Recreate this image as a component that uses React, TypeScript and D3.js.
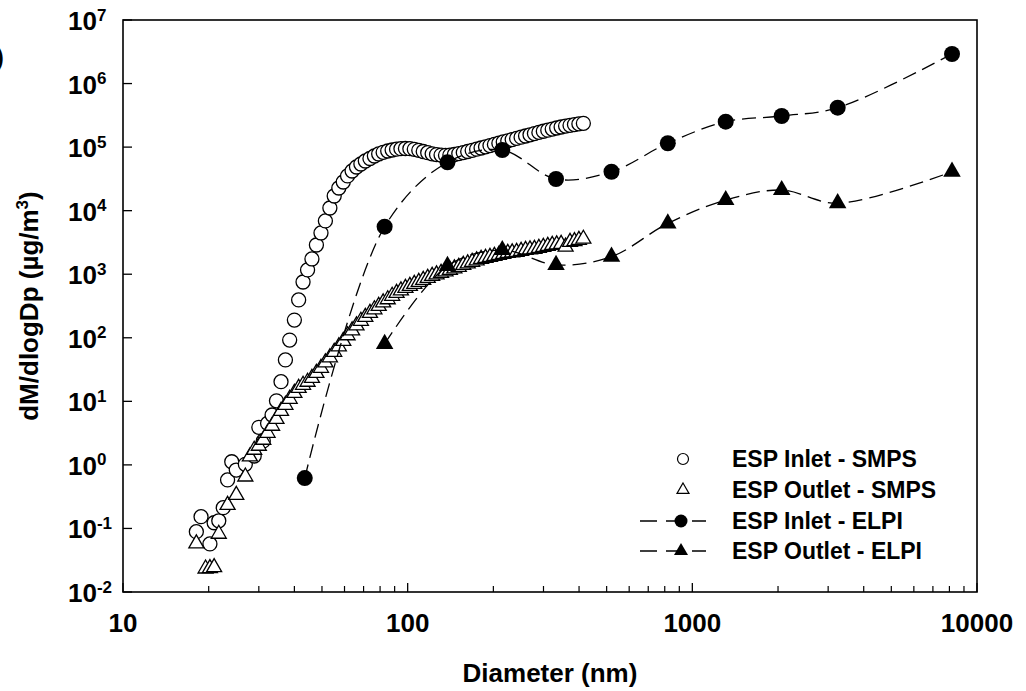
import React from 'react';
import * as d3 from 'd3';

const W = 1026;
const H = 691;
const PLOT = { left: 123, top: 20, right: 977, bottom: 592 };

const xTickValues = [10, 100, 1000, 10000];
const yTickExponents = [-2, -1, 0, 1, 2, 3, 4, 5, 6, 7];

const inletSmpsD = [18.1, 18.8, 20.2, 20.9, 21.7, 22.5, 23.3, 24.1, 25.0, 26.9, 28.9,
  30.0, 31.1, 32.2, 33.4, 34.6, 35.9, 37.2, 38.5, 40.0, 41.4, 42.9, 44.5, 46.1, 47.8, 49.6,
  51.4, 53.3, 55.2, 57.3, 59.4, 61.5, 63.8, 66.1, 68.5, 71.0, 73.7, 76.4, 79.1, 82.0, 85.1,
  88.2, 91.4, 94.7, 98.2, 101.8, 105.5, 109.4, 113.4, 117.6, 121.9, 126.3, 131.0, 135.8, 140.7,
  145.9, 151.2, 156.8, 162.5, 168.5, 174.7, 181.1, 187.7, 194.6, 201.7, 209.1, 216.7, 224.7,
  232.9, 241.4, 250.3, 259.5, 269.0, 278.8, 289.0, 299.6, 310.6, 322.0, 333.8, 346.0, 358.7,
  371.8, 385.4, 399.5, 414.2];
const inletSmpsV = [0.089, 0.153, 0.057, 0.123, 0.132, 0.212, 0.58, 1.12, 0.83, 1.02, 1.38,
  3.9, 2.38, 4.5, 6.1, 10.2, 20.4,
  44.8, 92, 190, 394, 755, 1167, 1738, 2884, 4457, 6887,
  11020, 17020, 22750, 28250, 35160, 42100, 48650, 54200, 60500, 66200,
  72500, 78000, 82900, 86900, 90100, 92800, 94400, 95100, 94400, 92400,
  89100, 85300, 81700, 78500, 76300, 74900, 74300, 74900, 76500, 79100,
  82000, 85300, 89100, 92800, 96900, 101000, 105700, 110400, 115300, 120500,
  125700, 131300, 137200, 143300, 149600, 156300, 163300, 170500, 177500, 184600,
  192100, 200000, 207300, 214000, 220000, 226000, 232000, 237000];

const outletSmpsD = [18.1, 19.5, 20.2, 20.9, 21.7, 23.3, 25.0, 26.9, 27.9, 28.9,
  30.0, 31.1, 32.2, 33.4, 34.6, 35.9, 37.2, 38.5, 40.0, 41.4, 42.9, 44.5, 46.1, 47.8, 49.6,
  51.4, 53.3, 55.2, 57.3, 59.4, 61.5, 63.8, 66.1, 68.5, 71.0, 73.7, 76.4, 79.1, 82.0, 85.1,
  88.2, 91.4, 94.7, 98.2, 101.8, 105.5, 109.4, 113.4, 117.6, 121.9, 126.3, 131.0, 135.8, 140.7,
  145.9, 151.2, 156.8, 162.5, 168.5, 174.7, 181.1, 187.7, 194.6, 201.7, 209.1, 216.7, 224.7,
  232.9, 241.4, 250.3, 259.5, 269.0, 278.8, 289.0, 299.6, 310.6, 322.0, 333.8, 346.0, 358.7,
  371.8, 385.4, 399.5, 414.2];
const outletSmpsV = [0.058, 0.0233, 0.0236, 0.0245, 0.082, 0.234, 0.336, 0.653, 1.35, 1.72,
  1.99, 2.47, 3.18, 4.1, 5.27, 7.05,
  8.77, 10.9, 13.5, 16.2, 18.1, 20.2, 23.3, 27.9, 33.5, 40.8,
  49, 59.8, 73, 89, 109, 130, 156, 184, 212, 245,
  279, 316, 359, 401, 455, 507, 555, 607, 653, 702,
  755, 811, 873, 938, 991, 1045, 1104, 1166, 1231, 1300,
  1397, 1476, 1559, 1645, 1738, 1800, 1866, 1936, 2009, 2080,
  2158, 2198, 2239, 2322, 2404, 2450, 2495, 2588, 2685, 2782,
  2884, 2937, 2992, 2700, 3213, 3300, 3459, 3600];

const inletElpiD = [43.5, 83, 138, 215, 332, 520, 820, 1310, 2060, 3240, 8170];
const inletElpiV = [0.62, 5600, 57700, 90000, 31500, 41000, 115000, 251000, 309000, 417000, 2920000];
const outletElpiD = [83, 138, 215, 332, 520, 820, 1310, 2060, 3240, 8170];
const outletElpiV = [80, 1350, 2400, 1400, 1890, 6300, 14700, 21100, 13100, 41000];

const legendLabels = ['ESP Inlet - SMPS', 'ESP Outlet - SMPS', 'ESP Inlet - ELPI', 'ESP Outlet - ELPI'];

const FONT = "'Liberation Sans', Arial, Helvetica, sans-serif";

const zip = (ds: number[], vs: number[]) =>
  ds.map((d, i) => [d, vs[i]] as [number, number]).filter((p) => p[1] !== undefined && p[1] > 0);

const triPath = (s: number) => {
  const h = s * 0.866;
  return `M0,${(-2 * h) / 3}L${s / 2},${h / 3}L${-s / 2},${h / 3}Z`;
};

export default function App() {
  const x = d3.scaleLog().domain([10, 10000]).range([PLOT.left, PLOT.right]);
  const y = d3.scaleLog().domain([0.01, 1e7]).range([PLOT.bottom, PLOT.top]);

  const inletSmps = zip(inletSmpsD, inletSmpsV);
  const outletSmps = zip(outletSmpsD, outletSmpsV);
  const inletElpi = zip(inletElpiD, inletElpiV);
  const outletElpi = zip(outletElpiD, outletElpiV);

  const line = d3
    .line<[number, number]>()
    .x((d) => x(d[0]))
    .y((d) => y(d[1]))
    .curve(d3.curveCatmullRom.alpha(0.5));

  const minorX: number[] = [];
  [10, 100, 1000].forEach((b) => {
    for (let k = 2; k <= 9; k++) minorX.push(b * k);
  });

  const dash = '14,7';

  const legendY = [459, 490, 521, 551];
  const legMarkerX = 681;
  const legTextX = 732;

  return (
    <svg
      width={W}
      height={H}
      style={{ position: 'absolute', left: 0, top: 0, background: '#fff' }}
      fontFamily={FONT}
      fontWeight="bold"
    >
      <rect x={0} y={0} width={W} height={H} fill="#fff" />
      {/* partial panel label, cropped at the left edge as in the source */}
      <text x={4} y={66} fontSize={26} textAnchor="end">(a)</text>

      {/* frame */}
      <rect
        x={PLOT.left}
        y={PLOT.top}
        width={PLOT.right - PLOT.left}
        height={PLOT.bottom - PLOT.top}
        fill="none"
        stroke="#000"
        strokeWidth={1.6}
      />

      {/* x ticks */}
      {xTickValues.map((v) => (
        <line key={'xt' + v} x1={x(v)} x2={x(v)} y1={PLOT.bottom} y2={PLOT.bottom - 9} stroke="#000" strokeWidth={1.3} />
      ))}
      {minorX.map((v) => (
        <line key={'xm' + v} x1={x(v)} x2={x(v)} y1={PLOT.bottom} y2={PLOT.bottom - 6} stroke="#000" strokeWidth={1.2} />
      ))}
      {xTickValues.map((v) => (
        <text key={'xl' + v} x={x(v)} y={632} fontSize={26} textAnchor="middle">
          {String(v)}
        </text>
      ))}

      {/* y ticks */}
      {yTickExponents.map((e) => (
        <line key={'yt' + e} x1={PLOT.left} x2={PLOT.left + 9} y1={y(Math.pow(10, e))} y2={y(Math.pow(10, e))} stroke="#000" strokeWidth={1.3} />
      ))}
      {yTickExponents.map((e) => {
        const yy = y(Math.pow(10, e));
        return (
          <text key={'yl' + e} x={68} y={yy + 10} fontSize={26}>
            10
            <tspan fontSize={17} dy={-9.5}>{String(e)}</tspan>
          </text>
        );
      })}

      {/* axis titles */}
      <text x={(PLOT.left + PLOT.right) / 2} y={682} fontSize={26} textAnchor="middle">
        Diameter (nm)
      </text>
      <text
        transform={`translate(38,${(PLOT.top + PLOT.bottom) / 2}) rotate(-90)`}
        fontSize={26}
        textAnchor="middle"
      >
        dM/dlogDp (µg/m<tspan fontSize={17} dy={-10}>3</tspan><tspan dy={10}>)</tspan>
      </text>

      {/* SMPS inlet: open circles */}
      <g>
        {inletSmps.map((p, i) => (
          <circle key={'ci' + i} cx={x(p[0])} cy={y(p[1])} r={7} fill="#fff" stroke="#000" strokeWidth={1.3} />
        ))}
      </g>
      {/* SMPS outlet: open triangles */}
      <g>
        {outletSmps.map((p, i) => (
          <path
            key={'to' + i}
            d={triPath(15)}
            transform={`translate(${x(p[0])},${y(p[1])})`}
            fill="#fff"
            stroke="#000"
            strokeWidth={1.3}
          />
        ))}
      </g>

      {/* ELPI lines */}
      <path d={line(inletElpi) || ''} fill="none" stroke="#000" strokeWidth={1.3} strokeDasharray={dash} />
      <path d={line(outletElpi) || ''} fill="none" stroke="#000" strokeWidth={1.3} strokeDasharray={dash} />
      {inletElpi.map((p, i) => (
        <circle key={'ei' + i} cx={x(p[0])} cy={y(p[1])} r={8} fill="#000" />
      ))}
      {outletElpi.map((p, i) => (
        <path key={'eo' + i} d={triPath(17.5)} transform={`translate(${x(p[0])},${y(p[1])})`} fill="#000" />
      ))}

      {/* legend */}
      <g>
        <circle cx={legMarkerX + 2} cy={legendY[0]} r={5.5} fill="#fff" stroke="#000" strokeWidth={1.2} />
        <path d={triPath(12)} transform={`translate(${legMarkerX + 2},${legendY[1]})`} fill="#fff" stroke="#000" strokeWidth={1.2} />
        <line x1={640} x2={706} y1={legendY[2]} y2={legendY[2]} stroke="#000" strokeWidth={1.3} strokeDasharray="17,9" />
        <circle cx={legMarkerX} cy={legendY[2]} r={6.5} fill="#000" />
        <line x1={640} x2={706} y1={legendY[3]} y2={legendY[3]} stroke="#000" strokeWidth={1.3} strokeDasharray="17,9" />
        <path d={triPath(14)} transform={`translate(${legMarkerX},${legendY[3]})`} fill="#000" />
        {legendLabels.map((t, i) => (
          <text key={'lg' + i} x={legTextX} y={legendY[i] + 8} fontSize={23}>
            {t}
          </text>
        ))}
      </g>
    </svg>
  );
}
